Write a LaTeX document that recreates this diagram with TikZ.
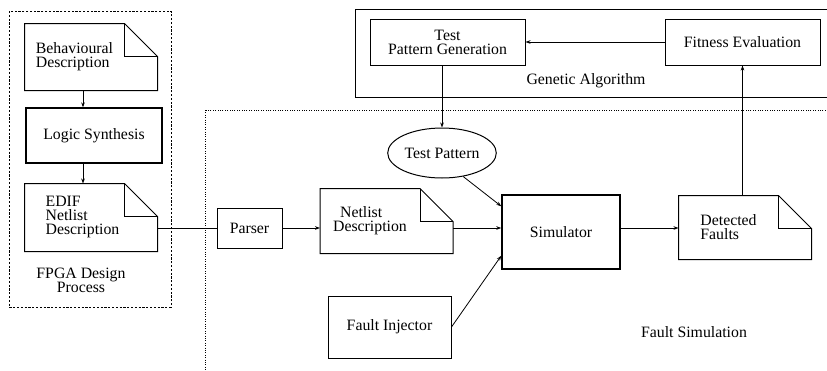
\documentclass[tikz,border=0pt]{standalone}
\usepackage{fontspec}
\setmainfont{Liberation Serif}
\usetikzlibrary{arrows.meta, positioning, calc, shapes.geometric}

% folded page outline round a doc node (the node is the part left of the fold)
\newcommand{\docframe}[1]{%
  \draw[docline] (#1.north west) -- (#1.north east)
    -- ([xshift=33pt, yshift=-33pt]#1.north east)
    -- ([xshift=33pt]#1.south east) -- (#1.south west) -- cycle;
  \draw[docline] (#1.north east) |- ([xshift=33pt, yshift=-33pt]#1.north east);
  \coordinate (#1-e) at ([xshift=33pt]#1.east);
}

\begin{document}
\begin{tikzpicture}[
  x=1pt, y=-1pt,
  line width=1pt,
  font=\fontsize{15.8pt}{14pt}\selectfont,
  % ---- styles ----
  block/.style = {
    rectangle, draw, line width=1pt,
    inner sep=2pt, align=center
  },
  doc/.style = {
    rectangle, inner sep=2pt,
    minimum width=99pt, minimum height=66pt,
    align=left
  },
  docline/.style = {line width=1pt, line join=miter},
  frame/.style = {line width=0.9pt, dash pattern=on 2.2pt off 1.6pt},
  dotframe/.style = {line width=0.9pt, dash pattern=on 1pt off 1.4pt},
  arrow/.style = {-{Stealth[length=5pt, width=3.6pt]}, line width=0.8pt},
  link/.style = {line width=1pt}
]
\useasboundingbox (0,0) rectangle (827,370);

% ============ CONTAINERS ============
\draw[frame] (9,11) rectangle (171,307);
\draw[dotframe] (205,110) rectangle (845,390);
\draw (845,9) -- (355,9) -- (355,97) -- (845,97);

% ============ FPGA DESIGN PROCESS ============

% --- behavioural description ---
\node[doc] (beh) at (74.5,57) {Behavioural\\Description};
\docframe{beh}

% --- logic synthesis ---
\node[block, line width=1.3pt, minimum width=136pt, minimum height=55pt] (logic) at (94,135.5) {Logic Synthesis};

% --- edif netlist ---
\node[doc, minimum height=67pt] (edif) at (74.5,217.5)
  {\hspace*{16pt}EDIF\\\hspace*{16pt}Netlist\\\hspace*{16pt}Description};
\docframe{edif}

\node[align=center] (fpga) at (81,280) {FPGA Design\\Process};

% ============ GENETIC ALGORITHM ============
\node[block, minimum width=155pt, minimum height=46pt] (tpg) at (447.5,42) {Test\\Pattern Generation};
\node[block, minimum width=155pt, minimum height=46pt] (fitness) at (742.5,42) {Fitness Evaluation};
\node (ga) at (586,81) {Genetic Algorithm};

% ============ FAULT SIMULATION ============
\node[block, minimum width=65pt, minimum height=40pt] (parser) at (249.5,228) {Parser};

\node[doc, minimum height=64pt] (netlist) at (370,221) {\hspace*{7pt}Netlist\\Description};
\docframe{netlist}

\node[ellipse, draw, line width=1pt, minimum width=106pt, minimum height=50pt, inner sep=1pt] (testpat) at (442,153) {Test Pattern};

\node[block, line width=1.5pt, minimum width=118pt, minimum height=74pt] (sim) at (561,232) {Simulator};

\node[block, minimum width=123pt, minimum height=62pt] (injector) at (389.5,327) {Fault Injector};

\node[doc, minimum height=63pt] (det) at (728.5,227.5) {Detected\\Faults};
\docframe{det}

\node (fsim) at (694,332) {Fault Simulation};

% ============ CONNECTIONS ============
\draw[arrow] ([xshift=8.5pt]beh.south) -- ([xshift=-11pt]logic.north);
\draw[arrow] ([xshift=-11pt]logic.south) -- ([xshift=8.5pt]edif.north);
\draw[link] (parser.west -| edif-e) -- (parser.west);
\draw[arrow] (parser.east) -- (parser.east -| netlist.west);
\draw[arrow] (parser.east -| netlist-e) -- (parser.east -| sim.west);
\draw[arrow] (testpat.-48) -- ([yshift=-12pt]sim.north west);
\draw[arrow] (injector.east) -- ([yshift=14pt]sim.south west);
\draw[arrow] (parser.east -| sim.east) -- (parser.east -| det.west);
\draw[arrow] (fitness.south |- det.north) -- (fitness.south);
\draw[arrow] (fitness.west) -- (tpg.east);
\draw[arrow] (testpat.north |- tpg.south) -- (testpat.north);

\end{tikzpicture}
\end{document}
